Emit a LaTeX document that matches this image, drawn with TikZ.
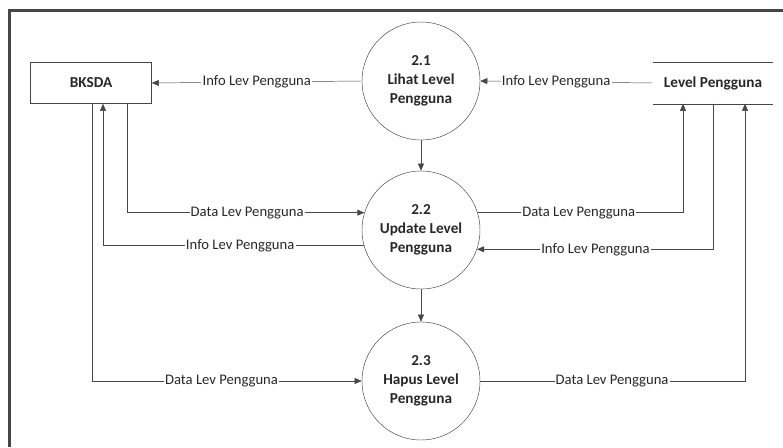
\documentclass[tikz,border=0pt]{standalone}
\usepackage{fontspec}
\setmainfont{Carlito}
\usepackage{tikz}
\usetikzlibrary{shapes,arrows.meta,positioning,calc}
\usepackage{xcolor}
\definecolor{lineGray}{RGB}{70,70,70}
\definecolor{textGray}{RGB}{40,40,40}

\begin{document}
\begin{tikzpicture}[
    x=0.03cm, y=-0.03cm,
    proc/.style={draw=lineGray, circle, minimum size=3.54cm, inner sep=0pt,
                 align=center, text=textGray,
                 font=\fontsize{13}{16}\selectfont\bfseries},
    ent/.style={draw=lineGray, minimum width=3.63cm, minimum height=1.23cm,
                text=textGray, font=\fontsize{13}{16}\selectfont\bfseries},
    store/.style={minimum width=3.6cm, minimum height=1.23cm, text=textGray,
                  font=\fontsize{13}{16}\selectfont\bfseries},
    flow/.style={fill=white, inner sep=1pt, text=textGray,
                 font=\fontsize{12.5}{14}\selectfont},
    arr/.style={-{Triangle[length=6pt,width=5pt]}, draw=lineGray, thin}
]
    \useasboundingbox (0,0) rectangle (783,447);
    % frame (only top and left edges fall inside the page)
    \draw[lineGray, line width=2pt] (9.5,447) -- (9.5,10.5) -- (783,10.5);

    % terminator, processes and data store
    \node[ent]   (bksda) at (91,83)  {BKSDA};
    \node[proc]  (p21)   at (421,81) {2.1\\Lihat Level\\Pengguna};
    \node[proc]  (p22)   at (421,230) {2.2\\Update Level\\Pengguna};
    \node[proc]  (p23)   at (421,381) {2.3\\Hapus Level\\Pengguna};
    \node[store] (lvl)   at (713,83) {Level Pengguna};
    \draw[lineGray] (lvl.north west) -- (lvl.north east);
    \draw[lineGray] (lvl.south west) -- (lvl.south east);

    % flows on row 1
    \draw[arr] (p21.west) -- node[flow, pos=0.5] (f1) {Info Lev Pengguna} (bksda.east);
    \draw[arr] (lvl.west) -- node[flow, pos=0.56] (f2) {Info Lev Pengguna} (p21.east);
    \draw[arr] (p21) -- (p22);
    \draw[arr] (p22) -- (p23);

    % flows between BKSDA and 2.2 / 2.3
    \draw[arr] ([xshift=1.08cm]bksda.south) |- node[flow, pos=0.753] (f3) {Data Lev Pengguna} (p22.163);
    \draw[arr] (p22.195) -| node[flow, pos=0.237] (f4) {Info Lev Pengguna} ([xshift=0.36cm]bksda.south);
    \draw[arr] ([xshift=0.03cm]bksda.south) |- node[flow, pos=0.74] (f5) {Data Lev Pengguna} (p23.west);

    % flows between level store and 2.2 / 2.3
    \draw[arr] (p22.17) -| node[flow, pos=0.246] (f6) {Data Lev Pengguna} ([xshift=-0.9cm]lvl.south);
    \draw[arr] (lvl.south) |- node[flow, pos=0.749] (f7) {Info Lev Pengguna} (p22.-19);
    \draw[arr] (p23.east) -| node[flow, pos=0.249] (f8) {Data Lev Pengguna} ([xshift=0.96cm]lvl.south);
\end{tikzpicture}
\end{document}
